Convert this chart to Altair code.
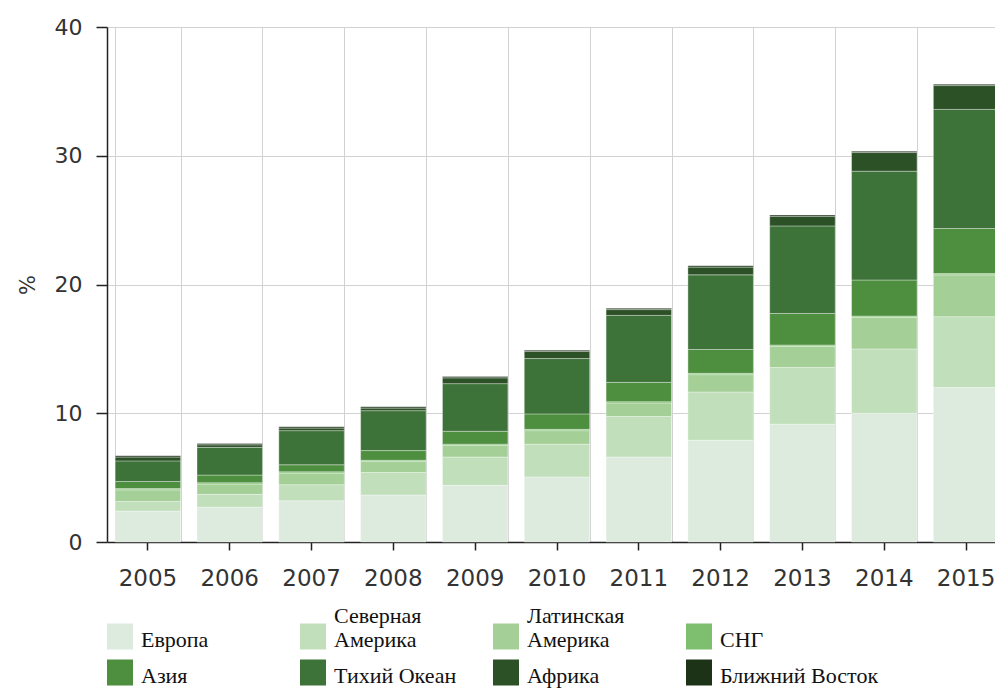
import altair as alt
import pandas as pd

# Years on the x axis
years = ["2005", "2006", "2007", "2008", "2009", "2010",
         "2011", "2012", "2013", "2014", "2015"]

# Regions in stacking order (bottom to top) and their colours
regions = ["Европа", "Северная Америка", "Латинская Америка", "СНГ",
           "Азия", "Тихий Океан", "Африка", "Ближний Восток"]
colors = ["#dcebdd", "#c2dfbb", "#a4cf96", "#7dbf6e",
          "#4e8e3f", "#3d7238", "#2d5127", "#1d3318"]

# Share of each region, %
europe        = [2.4, 2.7, 3.2, 3.65, 4.4, 5.05, 6.6, 7.9, 9.15, 10.0, 12.0]
north_america = [0.75, 1.0, 1.25, 1.75, 2.2, 2.55, 3.15, 3.75, 4.4, 5.0, 5.5]
latin_america = [0.9, 0.8, 0.9, 0.85, 0.9, 1.05, 1.05, 1.35, 1.65, 2.45, 3.25]
cis           = [0.1, 0.1, 0.1, 0.1, 0.1, 0.1, 0.1, 0.1, 0.1, 0.1, 0.1]
asia          = [0.55, 0.6, 0.55, 0.75, 1.0, 1.2, 1.5, 1.85, 2.45, 2.8, 3.5]
pacific       = [1.6, 2.15, 2.65, 3.1, 3.7, 4.3, 5.2, 5.8, 6.8, 8.45, 9.25]
africa        = [0.3, 0.2, 0.2, 0.2, 0.45, 0.55, 0.45, 0.6, 0.75, 1.45, 1.85]
middle_east   = [0.1, 0.1, 0.1, 0.1, 0.1, 0.1, 0.1, 0.1, 0.1, 0.1, 0.1]

y_ticks = [0, 10, 20, 30, 40]

series = [europe, north_america, latin_america, cis,
          asia, pacific, africa, middle_east]
records = []
for k, (name, values) in enumerate(zip(regions, series)):
    for year, v in zip(years, values):
        records.append({"year": year, "region": name, "share": v, "rank": k})
df = pd.DataFrame(records)

AXIS_FONT = "DejaVu Sans"
LEGEND_FONT = "Liberation Serif"

x_scale = alt.Scale(range=[0, 900], paddingInner=0.2, paddingOuter=0.1)

# Vertical grid lines sit on the band boundaries
grid_layer = alt.Chart(df).mark_bar(opacity=0).encode(
    x=alt.X("year:N", scale=x_scale, sort=years,
            axis=alt.Axis(grid=True, tickBand="extent", labels=False,
                          ticks=False, domain=False, title=None,
                          orient="bottom", gridColor="#d2d2d2",
                          gridWidth=1)),
)

# Two-word region names wrap onto two lines; the rest keep an empty top line
label_expr = (
    "indexof(['Северная Америка', 'Латинская Америка'], datum.label) >= 0"
    " ? split(datum.label, ' ') : ['', datum.label]"
)

bars = alt.Chart(df).mark_bar(
    stroke="#ffffff", strokeOpacity=0.35, strokeWidth=1
).encode(
    x=alt.X("year:N", scale=x_scale, sort=years,
            axis=alt.Axis(title=None, grid=False, labelAngle=0,
                          orient="bottom", tickSize=8, labelPadding=17,
                          labelFont=AXIS_FONT, labelFontSize=23,
                          labelColor="#333333", domainColor="#222222",
                          domainWidth=1.5, tickColor="#222222",
                          tickWidth=1.5)),
    y=alt.Y("share:Q", stack="zero",
            scale=alt.Scale(domain=[0, 40], nice=False),
            axis=alt.Axis(values=y_ticks, title="%", grid=True,
                          gridColor="#d2d2d2", gridWidth=1,
                          tickSize=11, labelPadding=14,
                          labelFont=AXIS_FONT, labelFontSize=22,
                          labelColor="#333333", domainColor="#222222",
                          domainWidth=1.5, tickColor="#222222",
                          tickWidth=1.5, titleFont=AXIS_FONT,
                          titleFontSize=21, titleFontWeight="normal",
                          titleColor="#333333", titlePadding=16)),
    color=alt.Color(
        "region:N",
        scale=alt.Scale(domain=regions, range=colors),
        legend=alt.Legend(
            title=None, orient="none", legendX=0, legendY=588,
            direction="horizontal", columns=4, gridAlign="all",
            columnPadding=0, rowPadding=-28, padding=0,
            symbolType="M-1,-0.346H1V1.654H-1Z", symbolSize=676,
            symbolStrokeWidth=0, symbolOpacity=1,
            labelFont=LEGEND_FONT, labelFontSize=22, labelColor="#111111",
            labelBaseline="bottom", labelOffset=8, labelLimit=400,
            labelExpr=label_expr,
        ),
    ),
    order=alt.Order("rank:Q", sort="ascending"),
)

chart = alt.layer(grid_layer, bars).resolve_axis(x="independent").properties(
    width=888,
    height=515,
    autosize=alt.AutoSizeParams(type="none"),
    padding={"left": 107, "top": 27, "right": 0, "bottom": 146},
).configure_view(stroke=None)

chart.save("out.html", embed_options={"renderer": "svg", "actions": False})
